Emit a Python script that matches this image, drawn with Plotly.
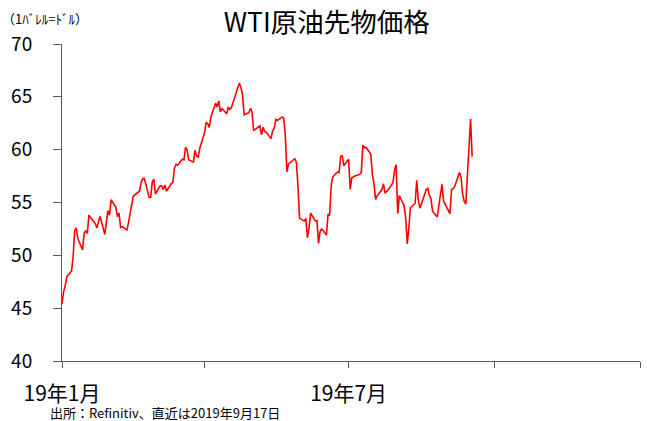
import plotly.graph_objects as go

dates = [
    "2019-01-01","2019-01-02","2019-01-03","2019-01-04","2019-01-07","2019-01-08","2019-01-09","2019-01-10","2019-01-11",
    "2019-01-14","2019-01-15","2019-01-16","2019-01-17","2019-01-18","2019-01-22","2019-01-23","2019-01-24","2019-01-25",
    "2019-01-28","2019-01-29","2019-01-30","2019-01-31","2019-02-01","2019-02-04","2019-02-05","2019-02-06","2019-02-07",
    "2019-02-08","2019-02-11","2019-02-12","2019-02-13","2019-02-14","2019-02-15","2019-02-19","2019-02-20","2019-02-21",
    "2019-02-22","2019-02-25","2019-02-26","2019-02-27","2019-02-28","2019-03-01","2019-03-04","2019-03-05","2019-03-06",
    "2019-03-07","2019-03-08","2019-03-11","2019-03-12","2019-03-13","2019-03-14","2019-03-15","2019-03-18","2019-03-19",
    "2019-03-20","2019-03-21","2019-03-22","2019-03-25","2019-03-26","2019-03-27","2019-03-28","2019-03-29","2019-04-01",
    "2019-04-02","2019-04-03","2019-04-04","2019-04-05","2019-04-08","2019-04-09","2019-04-10","2019-04-11","2019-04-12",
    "2019-04-15","2019-04-16","2019-04-17","2019-04-18","2019-04-22","2019-04-23","2019-04-24","2019-04-25","2019-04-26",
    "2019-04-29","2019-04-30","2019-05-01","2019-05-02","2019-05-03","2019-05-06","2019-05-07","2019-05-08","2019-05-09",
    "2019-05-10","2019-05-13","2019-05-14","2019-05-15","2019-05-16","2019-05-17","2019-05-20","2019-05-21","2019-05-22",
    "2019-05-23","2019-05-24","2019-05-28","2019-05-29","2019-05-30","2019-05-31","2019-06-03","2019-06-04","2019-06-05",
    "2019-06-06","2019-06-07","2019-06-10","2019-06-11","2019-06-12","2019-06-13","2019-06-14","2019-06-17","2019-06-18",
    "2019-06-19","2019-06-20","2019-06-21","2019-06-24","2019-06-25","2019-06-26","2019-06-27","2019-06-28","2019-07-01",
    "2019-07-02","2019-07-03","2019-07-05","2019-07-08","2019-07-09","2019-07-10","2019-07-11","2019-07-12","2019-07-15",
    "2019-07-16","2019-07-17","2019-07-18","2019-07-19","2019-07-22","2019-07-23","2019-07-24","2019-07-25","2019-07-26",
    "2019-07-29","2019-07-30","2019-07-31","2019-08-01","2019-08-02","2019-08-05","2019-08-06","2019-08-07","2019-08-08",
    "2019-08-09","2019-08-12","2019-08-13","2019-08-14","2019-08-15","2019-08-16","2019-08-19","2019-08-20","2019-08-21",
    "2019-08-22","2019-08-23","2019-08-26","2019-08-27","2019-08-28","2019-08-29","2019-08-30","2019-09-03","2019-09-04",
    "2019-09-05","2019-09-06","2019-09-09","2019-09-10","2019-09-11","2019-09-12","2019-09-13","2019-09-16","2019-09-17",
]

wti = [
    45.41,46.54,47.09,47.96,48.52,49.78,52.36,52.59,51.59,
    50.51,52.11,52.31,52.07,53.80,53.01,52.62,53.13,53.69,
    51.99,53.31,54.23,53.79,55.26,54.56,53.66,54.01,52.64,
    52.72,52.41,53.10,53.90,54.41,55.59,56.09,56.92,57.26,
    57.26,55.48,55.50,56.94,57.22,55.80,56.59,56.56,56.22,
    56.66,56.07,56.79,56.87,58.26,58.61,58.52,59.09,59.03,
    60.23,59.98,59.04,58.82,59.94,59.41,59.30,60.14,61.59,
    62.58,62.46,62.10,63.08,64.40,64.05,64.61,63.58,63.89,
    63.40,64.05,63.76,64.00,65.70,66.30,65.89,65.21,63.30,
    63.50,63.91,63.60,61.81,61.94,62.25,61.40,62.12,61.70,
    61.66,61.04,61.78,62.02,62.87,62.76,63.10,62.99,61.42,
    57.91,58.63,59.14,58.81,56.59,53.50,53.25,53.48,51.68,
    52.59,53.99,53.26,53.27,51.14,52.28,52.51,51.93,53.90,
    53.76,56.65,57.43,57.90,57.83,59.38,59.43,58.47,59.09,
    56.25,57.34,57.51,57.66,57.83,60.43,60.20,60.21,59.58,
    57.62,56.78,55.30,55.63,56.22,56.77,55.88,56.02,56.20,
    56.87,58.05,58.58,53.95,55.66,54.69,53.63,51.09,52.54,
    54.50,54.93,57.10,55.23,54.47,54.87,56.21,56.34,55.68,
    55.35,54.17,53.64,54.93,55.78,56.71,55.10,53.94,56.26,
    56.30,56.52,57.85,57.40,55.75,55.09,54.85,62.90,59.34,
]

x_tick_vals = ["2019-01-01", "2019-04-01", "2019-07-01", "2019-10-01", "2020-01-01"]
x_tick_text = ["19年1月", "", "19年7月", "", ""]
y_tick_vals = [40, 45, 50, 55, 60, 65, 70]

title_text = "WTI原油先物価格"
unit_text = "（1ﾊﾞﾚﾙ=ﾄﾞﾙ）"
source_text = "出所：Refinitiv、直近は2019年9月17日"

FONT = "Noto Sans CJK JP"
AX = "#595959"

fig = go.Figure()
fig.add_trace(go.Scatter(
    x=dates, y=wti, mode="lines",
    line=dict(color="#FF0000", width=1.6),
    showlegend=False, hoverinfo="skip",
))

fig.update_layout(
    width=647, height=421,
    margin=dict(l=62, r=7, t=44, b=60, autoexpand=False),
    paper_bgcolor="white", plot_bgcolor="white",
    font=dict(family=FONT, color="black"),
    title=dict(text=title_text, x=0.505, xanchor="center", y=0.945, yanchor="middle",
               font=dict(size=26.5, family=FONT, color="black")),
    showlegend=False,
)

fig.update_xaxes(
    type="date", range=["2019-01-01", "2020-01-01"],
    tickvals=x_tick_vals, ticktext=x_tick_text,
    showgrid=False, zeroline=False, automargin=False,
    showline=True, linecolor=AX, linewidth=1,
    ticks="outside", ticklen=6, tickcolor=AX, tickwidth=1,
    tickfont=dict(size=21, family=FONT, color="black"),
    ticklabelstandoff=8,
)
fig.update_yaxes(
    range=[40, 70], tickvals=y_tick_vals,
    showgrid=False, zeroline=False, automargin=False,
    showline=True, linecolor=AX, linewidth=1,
    ticks="outside", ticklen=8, tickcolor=AX, tickwidth=1,
    tickfont=dict(size=19, family=FONT, color="black"),
    ticklabelstandoff=17,
)

fig.add_annotation(text=unit_text, xref="paper", yref="paper", x=-0.108, y=1.082,
                   xanchor="left", yanchor="middle", showarrow=False,
                   font=dict(size=13, family=FONT, color="black"))
fig.add_annotation(text=source_text, xref="paper", yref="paper", x=-0.024, y=-0.164,
                   xanchor="left", yanchor="middle", showarrow=False,
                   font=dict(size=13, family=FONT, color="black"))

fig.write_html("out.html", config={"displayModeBar": False},
               post_script="document.body.style.margin='0';")
